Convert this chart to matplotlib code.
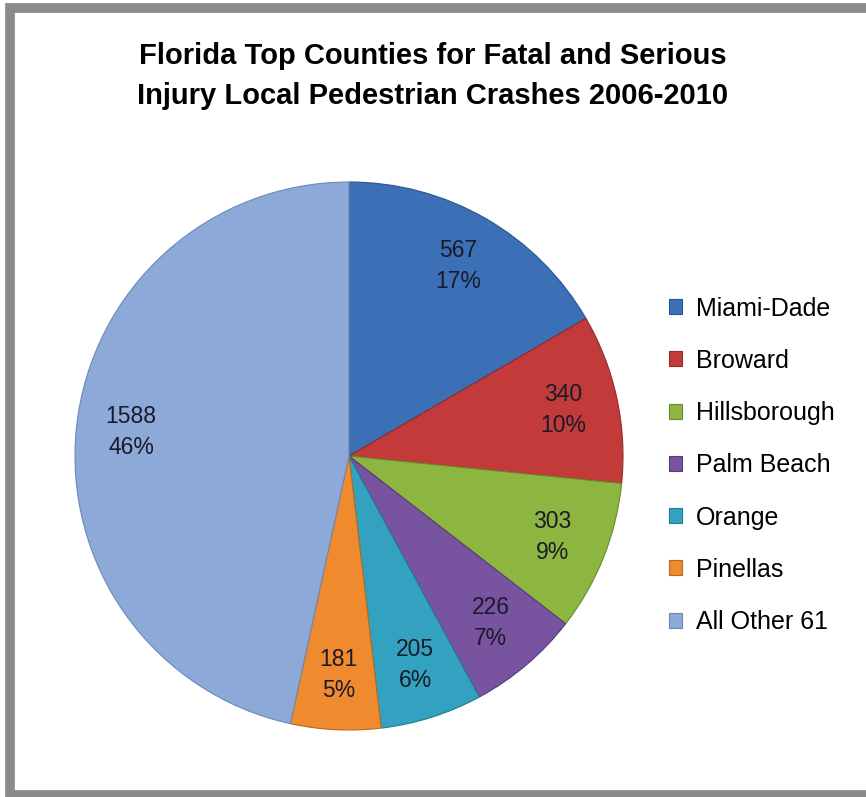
import matplotlib
matplotlib.use("Agg")
from matplotlib import pyplot as plt
from matplotlib.lines import Line2D
import numpy as np

counties = ["Miami-Dade", "Broward", "Hillsborough", "Palm Beach",
            "Orange", "Pinellas", "All Other 61"]
crashes = [567, 340, 303, 226, 205, 181, 1588]
percents = [17, 10, 9, 7, 6, 5, 46]
colors = ["#3B6FB6", "#C23B3A", "#8DB640", "#7853A0",
          "#33A2C0", "#EF8A2E", "#8DA9D8"]
edges = ["#2B5490", "#922B2A", "#6A8A2E", "#58397A",
         "#247A92", "#B86A22", "#6E88B8"]

W, H = 866, 797
plt.rcParams["font.family"] = ["Liberation Sans", "DejaVu Sans"]
fig = plt.figure(figsize=(W/100, H/100), dpi=100)

# frame of the chart area (top, left, bottom visible)
fx = [W + 5, 10, 10, W + 5]
fy = [H - 8, H - 8, 2, 2]
fig.lines.append(Line2D([x/W for x in fx], [y/H for y in fy],
                        transform=fig.transFigure, color="#8a8a8a",
                        linewidth=7, solid_joinstyle="miter"))

cx, cy, r = 349, 456, 274
ax = fig.add_axes([(cx - r)/W, (H - cy - r)/H, 2*r/W, 2*r/H])

wedges, texts = ax.pie(crashes, colors=colors, startangle=90,
                       counterclock=False, radius=1,
                       wedgeprops=dict(linewidth=0.8))
for w, e in zip(wedges, edges):
    w.set_edgecolor(e)

for w, n, p in zip(wedges, crashes, percents):
    ang = np.deg2rad((w.theta1 + w.theta2) / 2)
    ax.text(0.8*np.cos(ang), 0.8*np.sin(ang), "%d\n%d%%" % (n, p),
            ha="center", va="center", fontsize=16.5, color="#1a1a2a",
            linespacing=1.45)
ax.set_xlim(-1, 1)
ax.set_ylim(-1, 1)
ax.set_aspect("auto")

fig.text(0.5, 1 - 76/H, "Florida Top Counties for Fatal and Serious\n"
         "Injury Local Pedestrian Crashes 2006-2010",
         ha="center", va="center", fontsize=21, fontweight="bold",
         linespacing=1.5)

fig.legend(wedges, counties, loc="upper left",
           bbox_to_anchor=(646/W, 1 - 274/H), frameon=False,
           fontsize=18, handlelength=0.55, handleheight=0.55,
           handletextpad=0.55, labelspacing=1.13)

fig.savefig("out.png", dpi=100)
